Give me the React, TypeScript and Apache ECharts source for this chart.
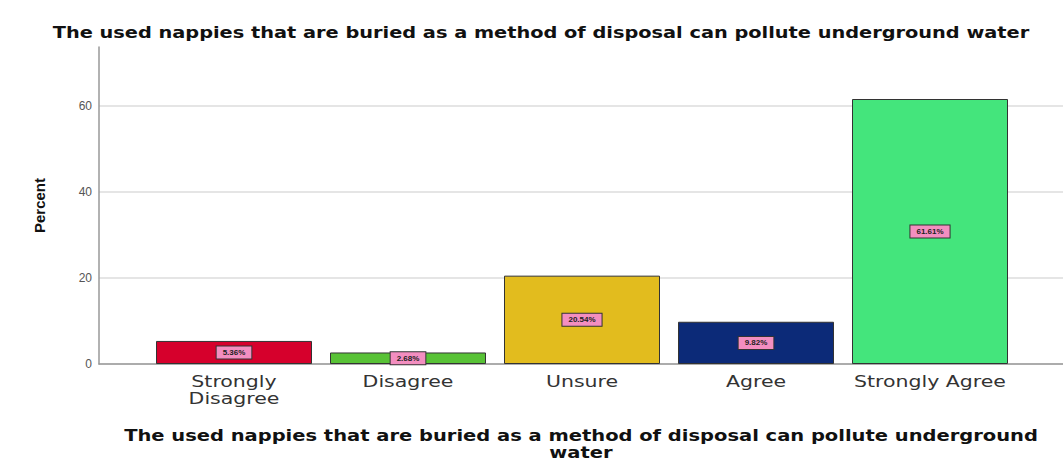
import React, { useEffect, useRef } from "react";
import * as echarts from "echarts";

const categories = ["Strongly\nDisagree", "Disagree", "Unsure", "Agree", "Strongly Agree"];
const percents = [5.36, 2.68, 20.54, 9.82, 61.61];
const barColors = ["#d6002c", "#58c236", "#e2bc1e", "#0c2a78", "#44e57c"];
const yTicks = [0, 20, 40, 60];
const titleText = "The used nappies that are buried as a method of disposal can pollute underground water";
const xName = "The used nappies that are buried as a method of disposal can pollute underground\nwater";

export default function App() {
  const ref = useRef<HTMLDivElement>(null);
  useEffect(() => {
    const chart = echarts.init(ref.current!, null, { renderer: "svg" });
    const yMax = 73.7;
    chart.setOption({
      animation: false,
      backgroundColor: "#ffffff",
      grid: [
        { left: 99, right: 0, top: 47, bottom: 101 },
        { left: 147, right: 46, top: 47, bottom: 101 },
      ],
      xAxis: [
        {
          gridIndex: 0,
          type: "value",
          min: 0,
          max: 1,
          axisLine: { show: true, lineStyle: { color: "#999", width: 1.5 } },
          axisTick: { show: false },
          axisLabel: { show: false },
          splitLine: { show: false },
        },
        {
          gridIndex: 1,
          type: "category",
          data: categories,
          axisLine: { show: false },
          axisTick: { show: false },
          axisLabel: { show: false },
        },
      ],
      yAxis: [
        {
          gridIndex: 0,
          type: "value",
          min: 0,
          max: yMax,
          interval: 20,
          axisLine: { show: true, lineStyle: { color: "#999", width: 1.5 } },
          axisTick: { show: false },
          axisLabel: {
            margin: 7,
            fontFamily: "Liberation Sans",
            fontSize: 12,
            color: "#555",
            formatter: (v: number) => (yTicks.includes(v) ? String(v) : ""),
          },
          splitLine: {
            show: true,
            lineStyle: { color: ["#dddddd", "#dddddd", "#dddddd", "#dddddd", "rgba(0,0,0,0)"], width: 1.5 },
          },
          name: "Percent",
          nameLocation: "middle",
          nameGap: 52,
          nameTextStyle: { fontFamily: "Liberation Sans", fontWeight: "bold", fontSize: 15, color: "#111" },
        },
        {
          gridIndex: 1,
          type: "value",
          min: 0,
          max: yMax,
          show: false,
          splitLine: { show: false },
        },
      ],
      series: [
        {
          type: "bar",
          xAxisIndex: 1,
          yAxisIndex: 1,
          barWidth: 156,
          data: percents.map((v, i) => ({
            value: v,
            itemStyle: { color: barColors[i], borderColor: "#333", borderWidth: 1 },
          })),
          label: {
            show: true,
            position: "inside",
            formatter: (p: any) => p.value.toFixed(2) + "%",
            fontFamily: "Liberation Sans",
            fontSize: 8,
            fontWeight: "bold",
            color: "#222",
            backgroundColor: "#f38ec0",
            borderColor: "#333",
            borderWidth: 1,
            padding: [2, 6],
          },
        },
      ],
    });

    const base = chart.convertToPixel({ yAxisIndex: 1 }, 0) as number;
    const xCenter = chart.convertToPixel({ xAxisIndex: 0 }, 0.5) as number;
    const boldFont = "bold 15px 'DejaVu Sans'";
    const catLabels = categories.map((c, i) => ({
      type: "text",
      x: chart.convertToPixel({ xAxisIndex: 1 }, i) as number,
      y: base + 9,
      scaleX: 1.28,
      silent: true,
      style: {
        text: c,
        font: "16px 'DejaVu Sans'",
        fill: "#333",
        textAlign: "center",
        textVerticalAlign: "top",
        align: "center",
        verticalAlign: "top",
        lineHeight: 17,
      },
    }));
    chart.setOption({
      graphic: [
        {
          type: "text",
          x: 541,
          y: 33,
          scaleX: 1.29,
          silent: true,
          style: {
            text: titleText,
            font: boldFont,
            fill: "#111",
            textAlign: "center",
            textVerticalAlign: "middle",
            align: "center",
            verticalAlign: "middle",
          },
        },
        {
          type: "text",
          x: xCenter,
          y: base + 63,
          scaleX: 1.3,
          silent: true,
          style: {
            text: xName,
            font: boldFont,
            fill: "#111",
            textAlign: "center",
            textVerticalAlign: "top",
            align: "center",
            verticalAlign: "top",
            lineHeight: 17,
          },
        },
        ...catLabels,
      ],
    });
    return () => chart.dispose();
  }, []);
  return <div ref={ref} style={{ position: "fixed", left: 0, top: 0, width: 1063, height: 465 }} />;
}
